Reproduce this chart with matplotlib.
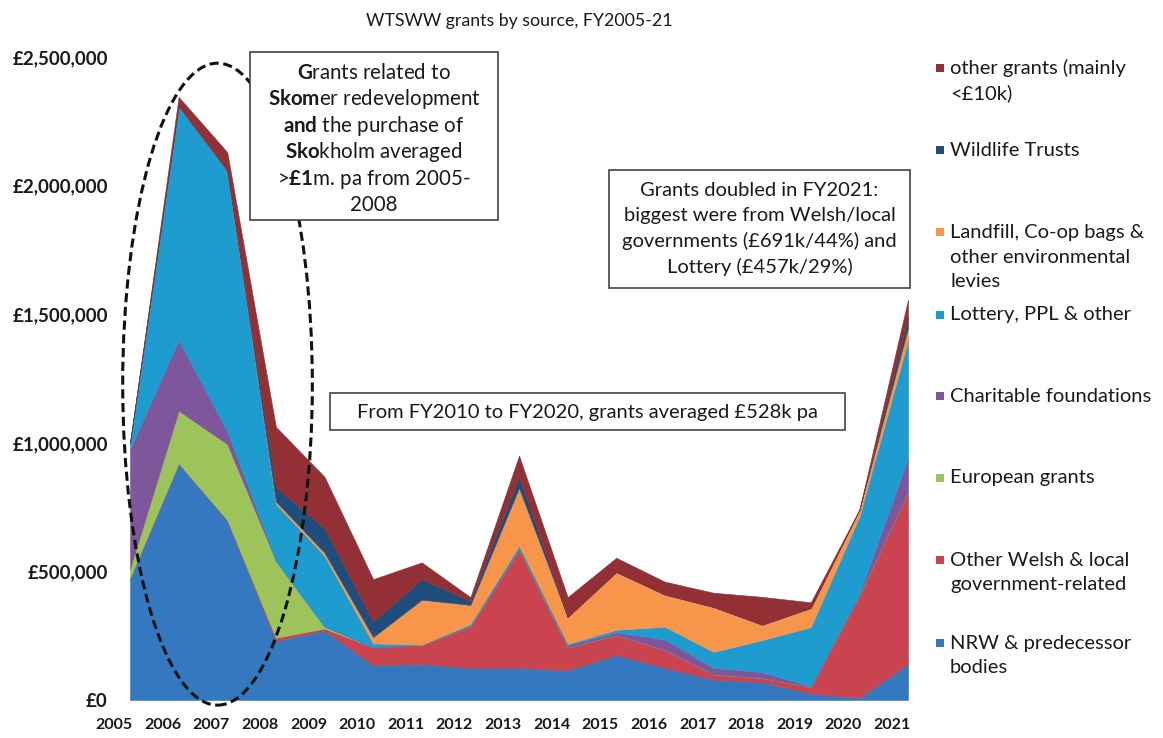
import matplotlib
matplotlib.use("Agg")
import matplotlib.pyplot as plt
import matplotlib.transforms as mtransforms
from matplotlib.patches import Ellipse, Rectangle
import numpy as np

plt.rcParams['font.family'] = ['Lato', 'DejaVu Sans']
plt.rcParams['mathtext.fontset'] = 'custom'
plt.rcParams['mathtext.rm'] = 'Lato'
plt.rcParams['mathtext.bf'] = 'Lato:bold'
plt.rcParams['mathtext.default'] = 'regular'

# ---------------- data (values in £k) ----------------
years = list(range(2005, 2022))
year_labels = [str(y) for y in years]

nrw      = [475, 920, 700, 230, 270, 135, 140, 125, 125, 115, 175, 125, 80, 70, 25, 8, 140]
welsh    = [0, 0, 0, 12, 8, 70, 75, 160, 460, 90, 78, 70, 20, 16, 25, 400, 670]
european = [35, 205, 295, 300, 8, 0, 0, 0, 0, 0, 0, 0, 0, 0, 0, 0, 0]
charity  = [465, 275, 50, 0, 0, 0, 0, 5, 5, 8, 10, 40, 25, 23, 3, 5, 130]
lottery  = [25, 910, 1015, 220, 275, 15, 0, 5, 10, 5, 10, 50, 62, 124, 230, 300, 457]
landfill = [0, 0, 0, 10, 12, 25, 175, 75, 225, 105, 225, 125, 175, 60, 75, 27, 50]
wildlife = [0, 0, 0, 55, 95, 60, 80, 15, 45, 0, 0, 0, 0, 0, 0, 0, 40]
other    = [0, 35, 70, 235, 200, 165, 65, 15, 80, 77, 55, 50, 55, 108, 22, 0, 70]

series_labels = ["NRW & predecessor\nbodies",
                 "Other Welsh & local\ngovernment-related",
                 "European grants",
                 "Charitable foundations",
                 "Lottery, PPL & other",
                 "Landfill, Co-op bags &\nother environmental\nlevies",
                 "Wildlife Trusts",
                 "other grants (mainly\n<£10k)"]
series_colors = ["#3479BF", "#C9444F", "#9DC35B", "#7E569C",
                 "#1E9CCF", "#F7964B", "#1F4E7C", "#923035"]

yticks = [0, 500000, 1000000, 1500000, 2000000, 2500000]
ytick_labels = ["£0", "£500,000", "£1,000,000", "£1,500,000", "£2,000,000", "£2,500,000"]

title = "WTSWW grants by source, FY2005-21"
note1_lines = ["$\\mathbf{G}$rants related to",
               "$\\mathbf{Skom}$er redevelopment",
               "$\\mathbf{and}$ the purchase of",
               "$\\mathbf{Sko}$kholm averaged",
               ">$\\mathbf{£1}$m. pa from 2005-",
               "2008"]
note2 = ("Grants doubled in FY2021:\nbiggest were from Welsh/local\n"
         "governments (£691k/44%) and\nLottery (£457k/29%)")
note3 = "From FY2010 to FY2020, grants averaged £528k pa"

# ---------------- figure ----------------
W, H = 1163, 738
fig = plt.figure(figsize=(W / 100, H / 100), dpi=100)

def fx(px):
    return px / W

def fy(py):
    return 1 - py / H

ax_l, ax_r, ax_t, ax_b = 130, 908, 57, 700
ax = fig.add_axes([fx(ax_l), fy(ax_b), fx(ax_r - ax_l), (ax_b - ax_t) / H])

data = np.array([nrw, welsh, european, charity, lottery, landfill, wildlife, other]) * 1000.0
ax.stackplot(years, data, colors=series_colors, linewidth=0.4, edgecolor='face')

ax.set_xlim(years[0], years[-1])
ax.set_ylim(0, 2500000)
for s in ax.spines.values():
    s.set_visible(False)

ax.set_yticks(yticks)
ax.set_yticklabels(ytick_labels, fontsize=13.5, fontweight='bold', color='#1a1a1a')
ax.set_xticks(years)
ax.set_xticklabels(year_labels, fontsize=11.5, fontweight='bold', color='#1a1a1a')
ax.tick_params(axis='y', length=0, pad=16)
ax.tick_params(axis='x', length=0, pad=13)
offset = mtransforms.ScaledTranslation(-16 / 100, 0, fig.dpi_scale_trans)
for lbl in ax.get_xticklabels():
    lbl.set_transform(lbl.get_transform() + offset)

ax.set_title(title, fontsize=12.8, pad=22, color='#1a1a1a')

# dashed ellipse around 2005-2008
ell = Ellipse((2006.8, 1228000), width=3.9, height=2496000, fill=False,
              linestyle=(0, (3, 1.5)), linewidth=2.2, edgecolor='#111111',
              clip_on=False, zorder=5)
ax.add_patch(ell)

# annotation boxes (figure pixel coordinates)
def rect(x0, y0, x1, y1):
    r = Rectangle((fx(x0), fy(y1)), fx(x1 - x0), (y1 - y0) / H,
                  transform=fig.transFigure, facecolor='white',
                  edgecolor='#444444', linewidth=1.2, zorder=10)
    fig.patches.append(r)

def box(x0, y0, x1, y1, text, cy, fs=14.5, ls=1.53):
    rect(x0, y0, x1, y1)
    fig.text(fx((x0 + x1) / 2), fy(cy), text, ha='center', va='center',
             fontsize=fs, linespacing=ls, color='#1a1a1a', zorder=11)

rect(250, 52, 498, 220)
for i, line in enumerate(note1_lines):
    fig.text(fx(374), fy(79 + i * 26.4), line, ha='center', va='baseline',
             fontsize=14.8, color='#1a1a1a', zorder=11)

box(609, 170, 910, 288, note2, 229)
box(330, 393, 845, 430, note3, 412)

# legend (manual, evenly spaced like the original)
leg_y = [643, 560, 478, 396, 315, 232, 150, 68]
line_gap = 25
for lab, col, yy in zip(series_labels, series_colors, leg_y):
    n = lab.count("\n") + 1
    fig.patches.append(Rectangle((fx(936), fy(yy + 4)), fx(8), 8 / H,
                                 transform=fig.transFigure, facecolor=col,
                                 edgecolor='none'))
    fig.text(fx(950), fy(yy + (n - 1) * line_gap / 2), lab, ha='left', va='center',
             fontsize=14.5, linespacing=1.52, color='#1a1a1a')

fig.savefig("out.png", dpi=100)
